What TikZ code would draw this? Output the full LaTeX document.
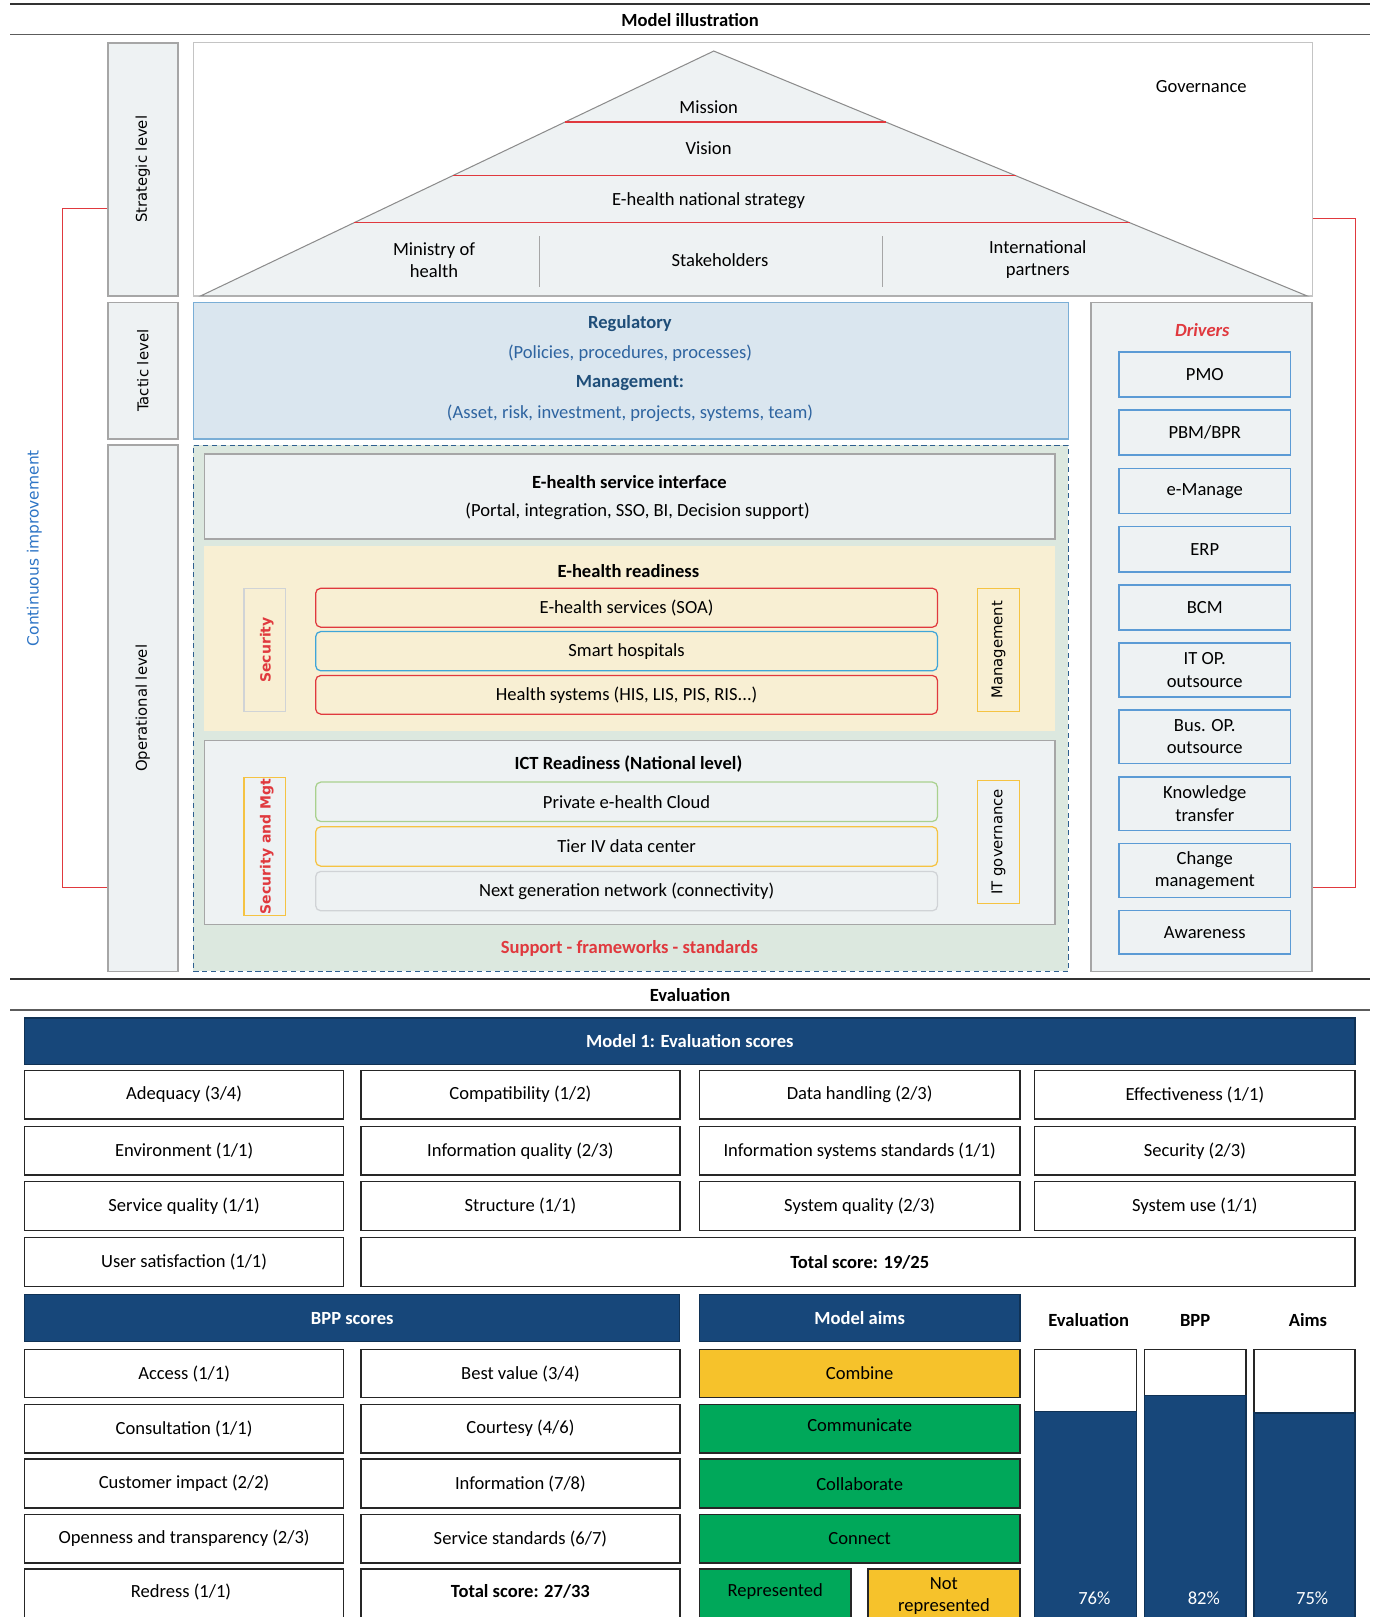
\documentclass[tikz,border=0pt]{standalone}
\usepackage{fontspec}
\setmainfont{Carlito}
\newfontfamily\dvs{DejaVu Sans}
\usetikzlibrary{calc}
\definecolor{lgfill}{HTML}{EEF2F3}
\definecolor{gborder}{HTML}{A6A6A6}
\definecolor{govb}{HTML}{C4C4C4}
\definecolor{trib}{HTML}{8C8C8C}
\definecolor{tacfill}{HTML}{DAE6EF}
\definecolor{tacborder}{HTML}{7AAED6}
\definecolor{bluebold}{HTML}{1F4E79}
\definecolor{bluenorm}{HTML}{2E64A0}
\definecolor{ciblue}{HTML}{2E75C6}
\definecolor{opfill}{HTML}{DCE8DF}
\definecolor{dashblue}{HTML}{2E5F8F}
\definecolor{yelfill}{HTML}{F8EFD3}
\definecolor{redc}{HTML}{E0393E}
\definecolor{navy}{HTML}{17477A}
\definecolor{greenc}{HTML}{00A85A}
\definecolor{yellowc}{HTML}{F6C22B}
\definecolor{goldb}{HTML}{F5C342}
\definecolor{skyb}{HTML}{3FA5D8}
\definecolor{lgreenb}{HTML}{A9D18E}
\definecolor{lgrayb}{HTML}{D0D3D6}
\definecolor{drvb}{HTML}{5B9BD5}
\definecolor{rulec}{HTML}{333333}
\newcommand\rbox[7]{%
  \pgfmathsetmacro\rbX{(#3+#5)/2}%
  \pgfmathsetmacro\rbY{(#4+#6)/2}%
  \pgfmathsetmacro\rbW{(#5-#3)*0.49865}%
  \pgfmathsetmacro\rbH{(#6-#4)*0.5}%
  \node[#2, minimum width=\rbW pt, minimum height=\rbH pt] (#1) at (\rbX,\rbY) {#7};}
\tikzset{
  txt/.style={font=\fontsize{9}{10.8}\selectfont, inner sep=0pt, align=center},
  btxt/.style={txt, font=\fontsize{9}{10.8}\selectfont\bfseries},
  rotl/.style={rotate=90, font=\dvs\fontsize{7.2}{8.5}\selectfont, inner sep=0pt},
  rotb/.style={rotate=90, font=\dvs\bfseries\fontsize{6.8}{8}\selectfont, inner sep=0pt, text=redc},
  lvl/.style={txt, draw=gborder, fill=lgfill, line width=0.9pt},
  govst/.style={draw=govb, fill=white, line width=0.7pt, inner sep=0pt},
  tri/.style={draw=trib, fill=lgfill, line width=0.5pt},
  tacst/.style={draw=tacborder, fill=tacfill, line width=0.7pt, inner sep=0pt},
  opst/.style={draw=dashblue, fill=opfill, line width=0.6pt, dash pattern=on 2.5pt off 1.8pt, inner sep=0pt},
  graybox/.style={txt, draw=gborder, fill=lgfill, line width=0.8pt},
  yarea/.style={fill=yelfill, inner sep=0pt},
  sidebox/.style={draw=#1, line width=0.6pt, inner sep=0pt},
  inbox/.style={txt, draw=#1, rounded corners=2.5pt, line width=0.6pt},
  drvbox/.style={txt, draw=drvb, fill=lgfill, line width=0.8pt},
  redsep/.style={draw=redc, line width=0.7pt},
  redl/.style={draw=redc, line width=0.5pt},
  sepl/.style={draw=gborder, line width=0.6pt},
  navyh/.style={txt, fill=navy, draw=navy!70!black, line width=0.6pt, text=white, font=\fontsize{9}{10.8}\selectfont\bfseries},
  cell/.style={txt, draw=black!85, line width=0.75pt, fill=white},
  aim/.style={cell, fill=#1},
  barb/.style={fill=navy, draw=navy!70!black, line width=0.6pt, inner sep=0pt},
}
\begin{document}
\begin{tikzpicture}[x=0.49865pt,y=-0.5pt]
\clip (0pt,0pt) rectangle (667pt,-784pt);
\fill[white] (0pt,0pt) rectangle (667pt,-784pt);
% header rules
\draw[rulec, line width=1.3pt] (10,4) -- (1332,4);
\draw[rulec!80, line width=0.8pt] (10,33.5) -- (1332,33.5);
\node[btxt] (hdr) at (671,19.5) {Model illustration};
% level boxes
\rbox{strat}{lvl}{105}{41.4}{172.7}{287}{}
\rbox{tact}{lvl}{105}{293.4}{172.7}{425.6}{}
\rbox{oper}{lvl}{105}{431.7}{172.7}{942}{}
\node[rotl] (stratl) at (strat) {Strategic level};
\node[rotl] (tactl) at (tact) {Tactic level};
\node[rotl] (operl) at (oper) {Operational level};
% governance
\rbox{gov}{govst}{188}{41.4}{1276}{287}{}
\coordinate (apex) at (694,49.5);
\coordinate (tl) at (195,287);
\coordinate (tr) at (1271,287);
\draw[tri] (apex) -- (tr) -- (tl) -- cycle;
\foreach \t in {0.2897,0.5086,0.7006}{
  \draw[redsep] ($(apex)!\t!(tl)$) -- ($(apex)!\t!(tr)$);}
\node[txt] (mission) at (689,103.5) {Mission};
\node[txt] (vision) at (689,143.5) {Vision};
\node[txt] (nstrat) at (689,194.5) {E-health national strategy};
\node[txt] (moh) at (422,252) {Ministry of\\health};
\node[txt] (stake) at (700,252) {Stakeholders};
\node[txt] (intp) at (1009,252) {International\\partners};
\draw[sepl] (524.5,229) -- (524.5,278);
\draw[sepl] (858.4,229) -- (858.4,278);
\node[txt] (govt) at (1168,84) {Governance};
% tactic
\rbox{tac}{tacst}{188}{293.4}{1038.8}{425.6}{}
\node[btxt, text=bluebold] (reg) at (612.5,313.4) {Regulatory};
\node[txt, text=bluenorm] (pol) at (612.5,342.5) {(Policies, procedures, processes)};
\node[btxt, text=bluebold] (mgm) at (612.5,371.6) {Management:};
\node[txt, text=bluenorm] (ass) at (612.5,400.7) {(Asset, risk, investment, projects, systems, team)};
% drivers
\rbox{drv}{lvl}{1060.4}{293.4}{1276}{942}{}
\node[txt, text=redc, font=\fontsize{9}{10.8}\selectfont\bfseries\itshape] (drvt) at (1169,320.5) {Drivers};
\rbox{d1}{drvbox}{1088}{341.6}{1254.8}{385.2}{PMO}
\rbox{d2}{drvbox}{1088}{397.8}{1254.8}{441.4}{PBM/BPR}
\rbox{d3}{drvbox}{1088}{454.4}{1254.8}{498}{e-Manage}
\rbox{d4}{drvbox}{1088}{510.6}{1254.8}{554.5}{ERP}
\rbox{d5}{drvbox}{1088}{567.1}{1254.8}{610.8}{BCM}
\rbox{d6}{drvbox}{1088}{623.7}{1254.8}{676}{IT OP.\\outsource}
\rbox{d7}{drvbox}{1088}{688.3}{1254.8}{740.3}{Bus. OP.\\outsource}
\rbox{d8}{drvbox}{1088}{753.3}{1254.8}{805.3}{Knowledge\\transfer}
\rbox{d9}{drvbox}{1088}{817.9}{1254.8}{870.3}{Change\\management}
\rbox{d10}{drvbox}{1088}{882.9}{1254.8}{925.1}{Awareness}
% operational area
\rbox{opa}{opst}{188}{431.7}{1038.8}{942}{}
\rbox{esi}{graybox}{198.7}{440.5}{1025.7}{522.9}{}
\node[btxt] (esit) at (612,467) {E-health service interface};
\node[txt] (esis) at (620,495.7) {(Portal, integration, SSO, BI, Decision support)};
\rbox{ehr}{yarea}{198.7}{529.3}{1025.7}{708.4}{}
\node[btxt] (ehrt) at (611,554.2) {E-health readiness};
\rbox{sec}{sidebox=lgrayb}{237.2}{570.4}{277.4}{690}{}
\node[rotb] (sect) at (259.5,630.2) {Security};
\rbox{soa}{inbox=redc, fill=yelfill}{306.9}{570.4}{911.6}{608.2}{E-health services (SOA)}
\rbox{smart}{inbox=skyb, fill=yelfill}{306.9}{612.4}{911.6}{650.5}{Smart hospitals}
\rbox{his}{inbox=redc, fill=yelfill}{306.9}{655}{911.6}{692.5}{Health systems (HIS, LIS, PIS, RIS...)}
\rbox{mgt}{sidebox=goldb}{950.5}{570.4}{991}{690}{}
\node[rotl] (mgtt) at (mgt) {Management};
\rbox{ict}{graybox}{198.7}{718}{1025.7}{896.4}{}
\node[btxt] (ictt) at (611,741) {ICT Readiness (National level)};
\rbox{secm}{sidebox=goldb}{237.2}{753.6}{277.4}{888}{}
\node[rotb] (secmt) at (259.5,820.8) {Security and Mgt};
\rbox{cloud}{inbox=lgreenb, fill=lgfill}{306.9}{758.4}{911.6}{796.6}{Private e-health Cloud}
\rbox{tier}{inbox=goldb, fill=lgfill}{306.9}{801.7}{911.6}{839.9}{Tier IV data center}
\rbox{ngn}{inbox=lgrayb, fill=lgfill}{306.9}{845}{911.6}{883.2}{Next generation network (connectivity)}
\rbox{itg}{sidebox=goldb}{950.5}{756.5}{991}{876.1}{}
\node[rotl] (itgt) at (itg) {IT governance};
\node[btxt, text=redc] (supp) at (612,919.7) {Support - frameworks - standards};
% continuous improvement
\coordinate (ci1) at (60.6,202.6);
\coordinate (ci2) at (60.6,860.6);
\coordinate (cr1) at (1317.5,211.7);
\coordinate (cr2) at (1317.5,860.6);
\draw[redl] (strat.west |- ci1) -- (ci1) -- (ci2) -- (oper.west |- ci2);
\draw[redl] (gov.east |- cr1) -- (cr1) -- (cr2) -- (drv.east |- cr2);
\node[rotl, text=ciblue, font=\dvs\fontsize{7.5}{9}\selectfont] (cit) at (33.3,531.5) {Continuous improvement};
% evaluation
\draw[rulec, line width=1.3pt] (10,949.4) -- (1332,949.4);
\draw[rulec!80, line width=0.8pt] (10,979.2) -- (1332,979.2);
\node[btxt] (evt) at (671,965) {Evaluation};
\rbox{m1}{navyh}{24}{987.2}{1317.5}{1032.5}{Model 1: Evaluation scores}
\rbox{e11}{cell}{24}{1038}{334}{1085}{Adequacy (3/4)}
\rbox{e12}{cell}{351}{1038}{661}{1085}{Compatibility (1/2)}
\rbox{e13}{cell}{680}{1038}{991.7}{1085}{Data handling (2/3)}
\rbox{e14}{cell}{1006}{1038}{1317.5}{1085}{Effectiveness (1/1)}
\rbox{e21}{cell}{24}{1092.3}{334}{1139.4}{Environment (1/1)}
\rbox{e22}{cell}{351}{1092.3}{661}{1139.4}{Information quality (2/3)}
\rbox{e23}{cell}{680}{1092.3}{991.7}{1139.4}{Information systems standards (1/1)}
\rbox{e24}{cell}{1006}{1092.3}{1317.5}{1139.4}{Security (2/3)}
\rbox{e31}{cell}{24}{1145.9}{334}{1193.4}{Service quality (1/1)}
\rbox{e32}{cell}{351}{1145.9}{661}{1193.4}{\raisebox{1.2pt}{Structure (1/1)}}
\rbox{e33}{cell}{680}{1145.9}{991.7}{1193.4}{System quality (2/3)}
\rbox{e34}{cell}{1006}{1145.9}{1317.5}{1193.4}{System use (1/1)}
\rbox{e41}{cell}{24}{1200}{334}{1247.4}{User satisfaction (1/1)}
\rbox{etot}{cell}{351}{1200}{1317.5}{1247.4}{}
\node[btxt] (etott) at (836,1224.5) {Total score: 19/25};
% BPP
\rbox{bpph}{navyh}{24}{1255.4}{661}{1301}{BPP scores}
\rbox{b11}{cell}{24}{1308.5}{334}{1355.3}{Access (1/1)}
\rbox{b12}{cell}{351}{1308.5}{661}{1355.3}{Best value (3/4)}
\rbox{b21}{cell}{24}{1361.8}{334}{1408.9}{Consultation (1/1)}
\rbox{b22}{cell}{351}{1361.8}{661}{1408.9}{Courtesy (4/6)}
\rbox{b31}{cell}{24}{1415}{334}{1462.3}{Customer impact (2/2)}
\rbox{b32}{cell}{351}{1415}{661}{1462.3}{Information (7/8)}
\rbox{b41}{cell}{24}{1468.4}{334}{1515.6}{Openness and transparency (2/3)}
\rbox{b42}{cell}{351}{1468.4}{661}{1515.6}{\raisebox{-1.2pt}{Service standards (6/7)}}
\rbox{b51}{cell}{24}{1521.7}{334}{1572}{}
\rbox{b52}{cell}{351}{1521.7}{661}{1572}{}
\node[txt] (b51t) at (176,1543.5) {Redress (1/1)};
\node[btxt] (b52t) at (506,1543.5) {Total score: 27/33};
% model aims
\rbox{aimh}{navyh}{680}{1255.4}{991.7}{1301}{Model aims}
\rbox{a1}{aim=yellowc}{680}{1308.5}{991.7}{1355.3}{Combine}
\rbox{a2}{aim=greenc}{680}{1361.8}{991.7}{1408.9}{\raisebox{3pt}{Communicate}}
\rbox{a3}{aim=greenc}{680}{1415}{991.7}{1462.3}{Collaborate}
\rbox{a4}{aim=greenc}{680}{1468.4}{991.7}{1515.6}{Connect}
\rbox{a5}{aim=greenc}{680}{1521.7}{827.6}{1572}{}
\rbox{a6}{aim=yellowc}{844}{1521.7}{991.7}{1572}{}
\node[txt] (a5t) at (753.8,1543.5) {Represented};
\node[txt] (a6t) at (917.8,1547.4) {Not\\represented};
% bars
\node[btxt] (lev) at (1058.5,1280) {Evaluation};
\node[btxt] (lbp) at (1162,1280) {BPP};
\node[btxt] (lai) at (1271.7,1280) {Aims};
\rbox{w1}{cell}{1006}{1308.5}{1105}{1369}{}
\rbox{w2}{cell}{1112.8}{1308.5}{1211.4}{1353.3}{}
\rbox{w3}{cell}{1219.3}{1308.5}{1317.5}{1370.2}{}
\rbox{v1}{barb}{1006}{1369}{1105}{1575}{}
\rbox{v2}{barb}{1112.8}{1353.3}{1211.4}{1575}{}
\rbox{v3}{barb}{1219.3}{1370.2}{1317.5}{1575}{}
\node[txt, text=white] (p1) at (1064,1549.4) {76\%};
\node[txt, text=white] (p2) at (1170.5,1549.4) {82\%};
\node[txt, text=white] (p3) at (1275.8,1549.4) {75\%};
\end{tikzpicture}
\end{document}
